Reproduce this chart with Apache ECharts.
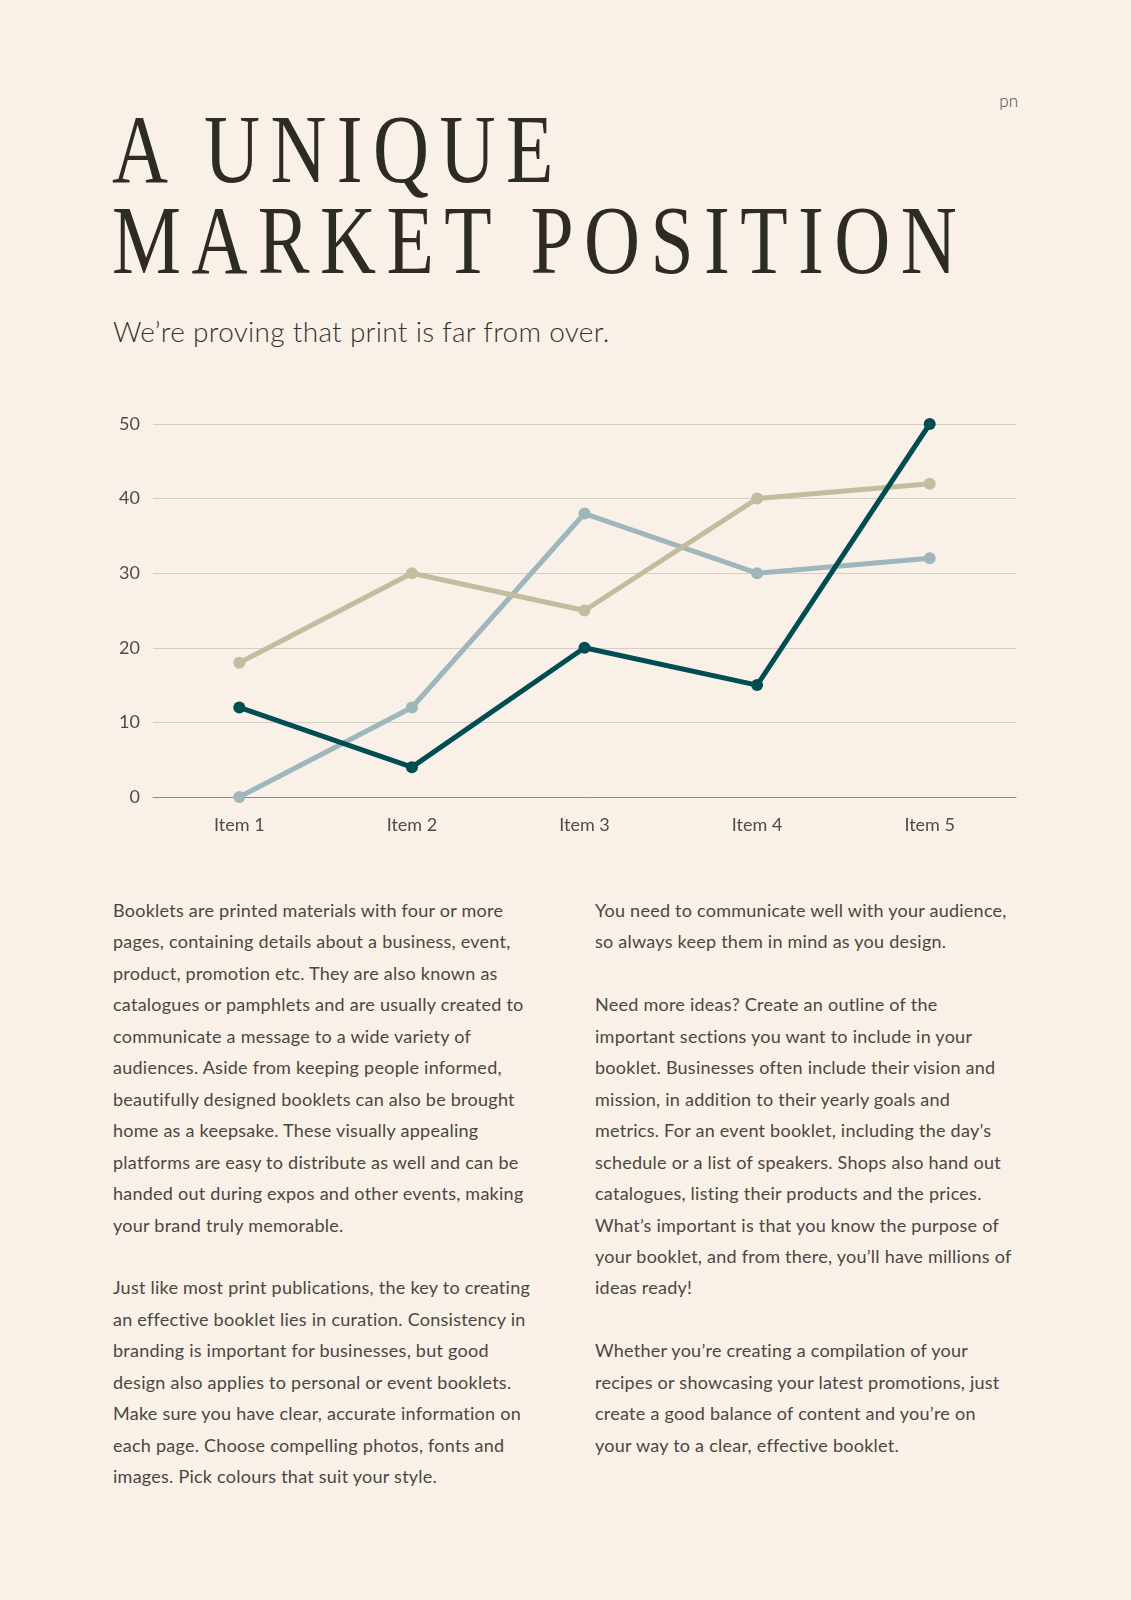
<!DOCTYPE html>
<html>
<head>
<meta charset="utf-8">
<script src="https://cdn.jsdelivr.net/npm/echarts@6/dist/echarts.min.js"></script>
<style>
  html, body { margin: 0; padding: 0; }
  body { width: 1131px; height: 1600px; background: #f9f1e8; position: relative; overflow: hidden; color: #3f3d37; }
  .pn { position: absolute; left: 960px; width: 58px; top: 90px; text-align: right; font: 300 17px Lato, sans-serif; color: #4a4741; }
  .title { position: absolute; left: 112px; font-family: "Liberation Serif", serif; font-size: 97px; line-height: 97px;
           letter-spacing: 13px; color: #2d2c24; white-space: nowrap; transform: scaleX(0.8); transform-origin: 0 0; }
  .sub { position: absolute; left: 113px; top: 314px; font: 300 28px Lato, sans-serif; letter-spacing: 0.3px; color: #35332d; white-space: nowrap; }
  .col { position: absolute; top: 895px; font: 400 18px Lato, sans-serif; letter-spacing: 0.25px; line-height: 31.45px; color: #4a4741; white-space: nowrap; }
  #chart { position: absolute; left: 0; top: 380px; width: 1131px; height: 480px; }
</style>
</head>
<body>
<div class="pn">pn</div>
<div class="title" style="top:101px">A UNIQUE</div>
<div class="title" style="top:192px">MARKET POSITION</div>
<div class="sub">We’re proving that print is far from over.</div>
<div id="chart"></div>
<div class="col" style="left:113px">
Booklets are printed materials with four or more<br>
pages, containing details about a business, event,<br>
product, promotion etc. They are also known as<br>
catalogues or pamphlets and are usually created to<br>
communicate a message to a wide variety of<br>
audiences. Aside from keeping people informed,<br>
beautifully designed booklets can also be brought<br>
home as a keepsake. These visually appealing<br>
platforms are easy to distribute as well and can be<br>
handed out during expos and other events, making<br>
your brand truly memorable.<br>
<br>
Just like most print publications, the key to creating<br>
an effective booklet lies in curation. Consistency in<br>
branding is important for businesses, but good<br>
design also applies to personal or event booklets.<br>
Make sure you have clear, accurate information on<br>
each page. Choose compelling photos, fonts and<br>
images. Pick colours that suit your style.
</div>
<div class="col" style="left:595px">
You need to communicate well with your audience,<br>
so always keep them in mind as you design.<br>
<br>
Need more ideas? Create an outline of the<br>
important sections you want to include in your<br>
booklet. Businesses often include their vision and<br>
mission, in addition to their yearly goals and<br>
metrics. For an event booklet, including the day’s<br>
schedule or a list of speakers. Shops also hand out<br>
catalogues, listing their products and the prices.<br>
What’s important is that you know the purpose of<br>
your booklet, and from there, you’ll have millions of<br>
ideas ready!<br>
<br>
Whether you’re creating a compilation of your<br>
recipes or showcasing your latest promotions, just<br>
create a good balance of content and you’re on<br>
your way to a clear, effective booklet.
</div>
<script>
const categories = ['Item 1', 'Item 2', 'Item 3', 'Item 4', 'Item 5'];
const tealValues = [12, 4, 20, 15, 50];
const blueValues = [0, 12, 38, 30, 32];
const beigeValues = [18, 30, 25, 40, 42];

const labelFont = { fontFamily: 'Lato, sans-serif', fontWeight: 400, fontSize: 18, color: '#4f4c46' };

function lineSeries(name, data, color) {
  return {
    name: name,
    type: 'line',
    data: data,
    symbol: 'circle',
    symbolSize: 12,
    lineStyle: { width: 5, color: color },
    itemStyle: { color: color },
    emphasis: { disabled: true },
  };
}

const chart = echarts.init(document.getElementById('chart'));
chart.setOption({
  animation: false,
  grid: { left: 153, right: 115, top: 44, bottom: 63 },
  xAxis: {
    type: 'category',
    data: categories,
    axisLine: { lineStyle: { color: '#8d8880', width: 1 } },
    axisTick: { show: false },
    axisLabel: Object.assign({ margin: 19 }, labelFont),
  },
  yAxis: {
    type: 'value',
    min: 0,
    max: 50,
    interval: 10,
    axisLine: { show: false },
    axisTick: { show: false },
    splitLine: { lineStyle: { color: '#d4cec5', width: 1.2 } },
    axisLabel: Object.assign({ margin: 13 }, labelFont),
  },
  series: [
    lineSeries('blue', blueValues, '#9db7bd'),
    lineSeries('beige', beigeValues, '#c3bd9f'),
    lineSeries('teal', tealValues, '#004d53'),
  ],
});
</script>
</body>
</html>
